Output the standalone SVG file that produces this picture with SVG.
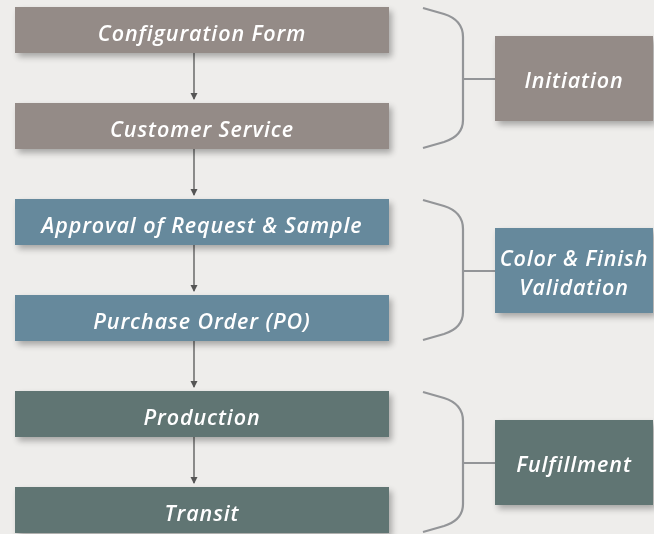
<svg xmlns="http://www.w3.org/2000/svg" width="654" height="534" viewBox="0 0 654 534">
<defs>
<filter id="sh" x="-10%" y="-20%" width="130%" height="160%">
<feGaussianBlur in="SourceAlpha" stdDeviation="3"/>
<feOffset dx="3" dy="4" result="b"/>
<feComponentTransfer><feFuncA type="linear" slope="0.3"/></feComponentTransfer>
<feMerge><feMergeNode/><feMergeNode in="SourceGraphic"/></feMerge>
</filter>
<marker id="ah" markerWidth="8" markerHeight="8" refX="6" refY="4" orient="auto" markerUnits="userSpaceOnUse">
<path d="M0,0.5 L7,4 L0,7.5 Z" fill="#555"/>
</marker>
</defs>
<style>
text{font-family:"Open Sans","Lato",sans-serif;font-style:italic;font-weight:600;font-size:21.5px;letter-spacing:0.9px;fill:#fff;text-anchor:middle}
.a{fill:#948b87}
.b{fill:#66899c}
.c{fill:#617473}
.br{fill:none;stroke:#939598;stroke-width:2.2}
.cn{stroke:#555;stroke-width:1.3;fill:none}
</style>
<rect width="654" height="534" fill="#eeedeb"/>
<g id="connectors">
<line class="cn" x1="194" y1="53" x2="194" y2="99" marker-end="url(#ah)"/>
<line class="cn" x1="194" y1="149" x2="194" y2="195" marker-end="url(#ah)"/>
<line class="cn" x1="194" y1="245" x2="194" y2="291" marker-end="url(#ah)"/>
<line class="cn" x1="194" y1="341" x2="194" y2="387" marker-end="url(#ah)"/>
<line class="cn" x1="194" y1="437" x2="194" y2="483" marker-end="url(#ah)"/>
<path class="br" d="M423,8 L444,14 Q463,20 463,37 L463,120 Q463,136 444,142 L423,148 M463,79 L495,79"/>
<path class="br" d="M423,200 L444,206 Q463,212 463,229 L463,312 Q463,328 444,334 L423,340 M463,271 L495,271"/>
<path class="br" d="M423,392 L444,398 Q463,404 463,421 L463,504 Q463,520 444,526 L423,532 M463,463 L495,463"/>
</g>
<g id="n1" filter="url(#sh)"><rect class="a" x="15" y="7" width="374" height="46"/><text x="202" y="41">Configuration Form</text></g>
<g id="n2" filter="url(#sh)"><rect class="a" x="15" y="103" width="374" height="46"/><text x="202" y="137">Customer Service</text></g>
<g id="n3" filter="url(#sh)"><rect class="b" x="15" y="199" width="374" height="46"/><text x="202" y="233">Approval of Request &amp; Sample</text></g>
<g id="n4" filter="url(#sh)"><rect class="b" x="15" y="295" width="374" height="46"/><text x="202" y="329">Purchase Order (PO)</text></g>
<g id="n5" filter="url(#sh)"><rect class="c" x="15" y="391" width="374" height="46"/><text x="202" y="425">Production</text></g>
<g id="n6" filter="url(#sh)"><rect class="c" x="15" y="487" width="374" height="46"/><text x="202" y="521">Transit</text></g>
<g id="g1" filter="url(#sh)"><rect class="a" x="495" y="36" width="158" height="85"/><text x="574" y="88">Initiation</text></g>
<g id="g2" filter="url(#sh)"><rect class="b" x="495" y="228" width="158" height="85"/><text x="574" y="266">Color &amp; Finish</text><text x="574" y="295">Validation</text></g>
<g id="g3" filter="url(#sh)"><rect class="c" x="495" y="420" width="158" height="85"/><text x="574" y="472">Fulfillment</text></g>
</svg>
